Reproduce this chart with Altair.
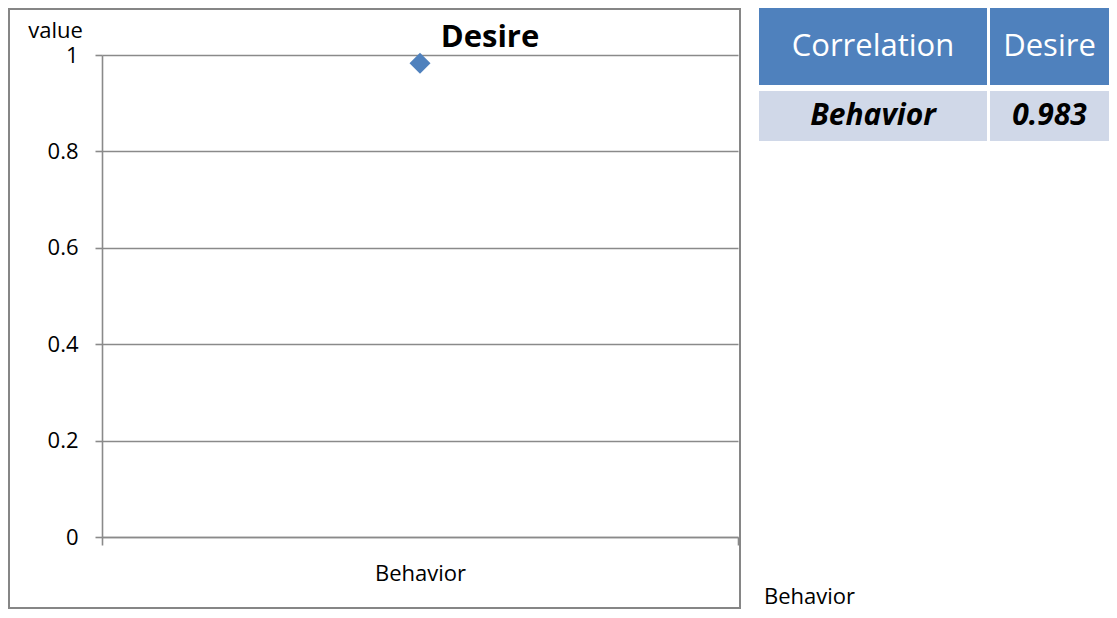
import altair as alt
import pandas as pd

# ---- data ----
categories = ["Behavior"]
series_name = "Desire"
values = [0.983]
y_ticks = [0, 0.2, 0.4, 0.6, 0.8, 1]
y_title = "value"
table_header = ["Correlation", "Desire"]
table_row_label = ["Behavior"]
table_values = [0.983]
footer_label = "Behavior"

GRID = "#8a8a8a"
BLUE = "#4F81BD"
ROWFILL = "#D0D8E8"
FONT = "Open Sans"
LBL = 22

df = pd.DataFrame({"category": categories, "value": values})

# view spans from the top of the frame down to the x axis; the y scale
# occupies the lower part of it (top margin holds the series title)
W, H = 636, 529
TOP = 47

base = alt.Chart(df)

border = base.mark_rect(filled=False, stroke="#868686", strokeWidth=2).encode(
    x=alt.value(-93), x2=alt.value(638), y=alt.value(1), y2=alt.value(600)
)

points = base.mark_point(shape="diamond", filled=True, size=440, color=BLUE, opacity=1).encode(
    x=alt.X(
        "category:N",
        scale=alt.Scale(type="band", paddingInner=0, paddingOuter=0),
        axis=alt.Axis(
            title=None, tickBand="extent", tickSize=8, labelPadding=18, labelAngle=0,
            labelFontSize=LBL, labelColor="#000", domainColor=GRID, tickColor=GRID,
            domainWidth=1.6, tickWidth=1.6, grid=False,
        ),
    ),
    y=alt.Y(
        "value:Q",
        scale=alt.Scale(domain=[0, 1], nice=False, zero=True, range=[H, TOP]),
        axis=alt.Axis(
            values=y_ticks, format="~g", title=y_title, titleAngle=0, titleX=-47, titleY=29,
            titleAlign="center", titleBaseline="alphabetic", titleFontSize=LBL,
            titleFontWeight="normal", titleColor="#000", tickSize=7, labelPadding=17,
            labelFontSize=LBL, labelColor="#000", gridColor=GRID, gridWidth=1.6,
            domainColor=GRID, tickColor=GRID, domainWidth=1.6, tickWidth=1.6,
        ),
    ),
)

title_text = alt.Chart(pd.DataFrame({"t": [series_name]})).mark_text(
    fontSize=31, fontWeight="bold", align="center", baseline="alphabetic", color="#000"
).encode(text="t:N", x=alt.value(388), y=alt.value(39))

main = alt.layer(border, points, title_text).properties(width=W, height=H)


def cell(frame, text_enc, w, h, fill, color, size, weight="normal", style="normal"):
    return (
        alt.Chart(frame)
        .mark_text(fontSize=size, fontWeight=weight, fontStyle=style, color=color,
                   align="center", baseline="middle")
        .encode(text=text_enc)
        .properties(width=w, height=h, view=alt.ViewBackground(fill=fill, stroke=None))
    )


C1, C2 = 228, 119
R1, R2 = 77, 50

h1 = cell(pd.DataFrame({"t": [table_header[0]]}), "t:N", C1, R1, BLUE, "#ffffff", 31)
h2 = cell(pd.DataFrame({"t": [table_header[1]]}), "t:N", C2, R1, BLUE, "#ffffff", 31)
r1 = cell(pd.DataFrame({"t": table_row_label}), "t:N", C1, R2, ROWFILL, "#000", 30, "bold", "italic")
r2 = cell(pd.DataFrame({"v": table_values}), alt.Text("v:Q", format=".3f"), C2, R2, ROWFILL,
          "#000", 30, "bold", "italic")

FH = 462
footer = (
    alt.Chart(pd.DataFrame({"t": [footer_label]}))
    .mark_text(align="left", baseline="alphabetic", fontSize=LBL, color="#000")
    .encode(text="t:N", x=alt.value(5), y=alt.value(FH - 5))
    .properties(width=C1 + C2 + 3, height=FH, view=alt.ViewBackground(fill="#ffffff", stroke=None))
)

table = alt.vconcat(
    alt.hconcat(h1, h2, spacing=3),
    alt.hconcat(r1, r2, spacing=3),
    footer,
    spacing=6,
)

chart = (
    alt.hconcat(main, table, spacing=18)
    .properties(padding=0)
    .configure(font=FONT)
    .configure_view(stroke=None)
)

chart.save("out.html", embed_options={"renderer": "svg", "actions": False})
